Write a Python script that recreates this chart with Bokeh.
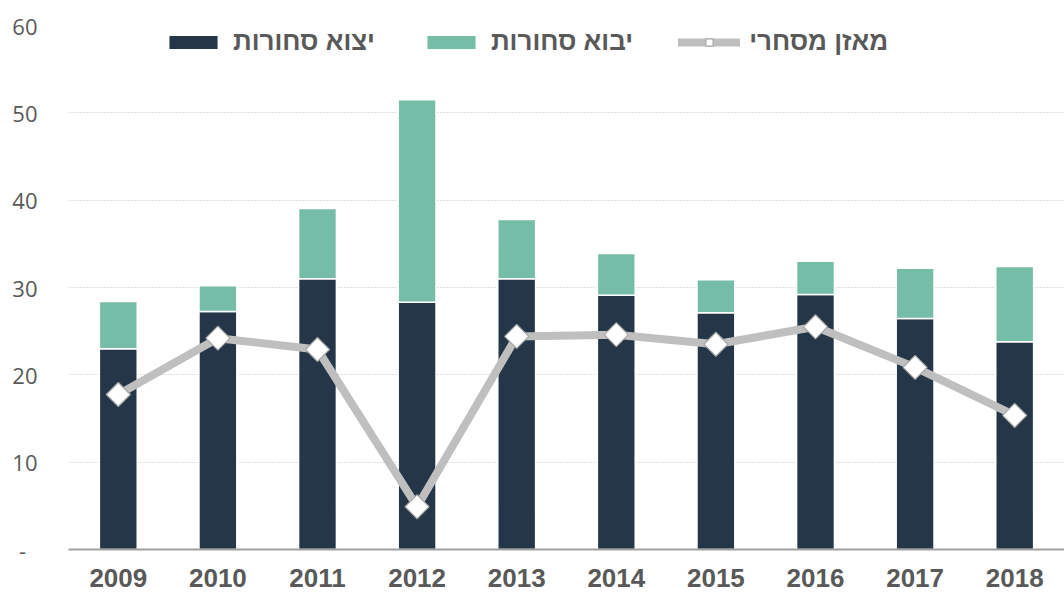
import numpy as np
from bokeh.plotting import figure
from bokeh.models import ColumnDataSource, FactorRange, FixedTicker, Legend, LegendItem, Range1d
from bokeh.embed import file_html
from bokeh.resources import INLINE

years = ["2009", "2010", "2011", "2012", "2013", "2014", "2015", "2016", "2017", "2018"]
exports = [23.0, 27.25, 31.0, 28.3, 31.0, 29.1, 27.1, 29.2, 26.45, 23.8]
imports = [5.4, 2.95, 8.05, 23.2, 6.8, 4.8, 3.8, 3.8, 5.75, 8.6]
balance = [17.75, 24.2, 22.9, 4.9, 24.4, 24.6, 23.5, 25.5, 20.85, 15.35]
y_ticks = [0, 10, 20, 30, 40, 50, 60]

label_exports = "יצוא סחורות"
label_imports = "יבוא סחורות"
label_balance = "מאזן מסחרי"

DARK = "#243647"
TEAL = "#75BDA7"
LINEC = "#BFBFBF"
TXT = "#595959"

src = ColumnDataSource(dict(years=years, exports=exports, imports=imports, balance=balance))

p = figure(width=1064, height=592, x_range=FactorRange(*years, range_padding=0),
           y_range=Range1d(0, 60), output_backend="svg", toolbar_location=None,
           min_border_left=68, min_border_right=0, min_border_top=25, min_border_bottom=43)
p.outline_line_color = None
p.background_fill_color = "white"
p.border_fill_color = "white"

bars = p.vbar_stack(["exports", "imports"], x="years", width=0.38, source=src,
                    color=[DARK, TEAL], line_color="white", line_width=1.5)

line = p.line("years", "balance", source=src, line_color=LINEC, line_width=8,
              line_cap="round", line_join="round")
pts = p.scatter("years", "balance", source=src, marker="square", angle=np.pi / 4,
                size=17, fill_color="white", line_color="#A6A6A6", line_width=1.2)

p.xgrid.grid_line_color = None
p.ygrid.grid_line_color = "#BFBFBF"
p.ygrid.grid_line_dash = "1 2"
p.ygrid.grid_line_width = 1
p.ygrid.ticker = FixedTicker(ticks=y_ticks)

p.yaxis.ticker = FixedTicker(ticks=y_ticks)
p.yaxis.major_label_overrides = {0: "-\u00a0\u00a0"}
p.yaxis.axis_line_color = None
p.yaxis.major_tick_line_color = None
p.yaxis.minor_tick_line_color = None
p.yaxis.major_tick_out = 0
p.yaxis.major_label_standoff = 31
p.yaxis.major_label_text_font = "Open Sans"
p.yaxis.major_label_text_font_size = "22px"
p.yaxis.major_label_text_color = TXT

p.xaxis.axis_line_color = "#A0A0A0"
p.xaxis.axis_line_width = 2
p.xaxis.major_tick_line_color = None
p.xaxis.major_tick_out = 0
p.xaxis.major_label_standoff = 19
p.xaxis.major_label_text_font = "Liberation Sans"
p.xaxis.major_label_text_font_style = "bold"
p.xaxis.major_label_text_font_size = "26px"
p.xaxis.major_label_text_line_height = 0.8
p.xaxis.major_label_text_color = TXT

legend = Legend(items=[
    LegendItem(label=label_exports, renderers=[bars[0]]),
    LegendItem(label=label_imports, renderers=[bars[1]]),
    LegendItem(label=label_balance, renderers=[line, pts]),
], orientation="horizontal", location=(94, 492))
legend.background_fill_alpha = 0
legend.border_line_color = None
legend.padding = 0
legend.margin = 0
legend.spacing = 45
legend.glyph_width = 62
legend.glyph_height = 18
legend.label_standoff = 9
legend.label_text_font = "Liberation Sans"
legend.label_text_font_style = "bold"
legend.label_text_font_size = "26px"
legend.label_text_color = TXT
p.add_layout(legend)

open("out.html", "w").write(file_html(p, INLINE))
